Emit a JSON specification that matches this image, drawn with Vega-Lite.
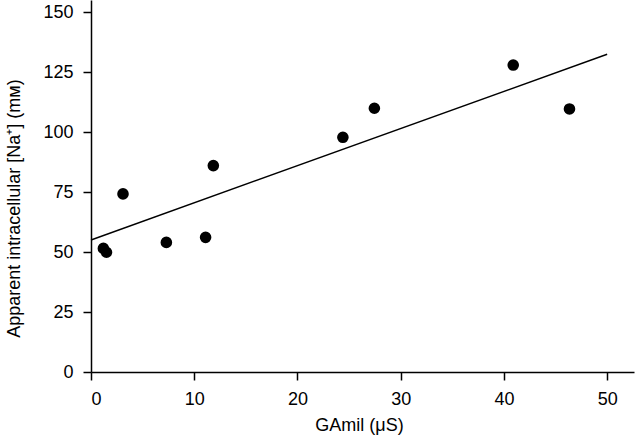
{
  "$schema": "https://vega.github.io/schema/vega-lite/v6.json",
  "width": 543,
  "height": 372,
  "autosize": {"type": "none"},
  "padding": {"left": 91, "top": 0, "right": 5, "bottom": 69},
  "background": "white",
  "config": {
    "view": {"stroke": null},
    "font": "Liberation Sans",
    "axis": {
      "grid": false,
      "domainColor": "black",
      "domainWidth": 1.5,
      "tickColor": "black",
      "tickWidth": 1.5,
      "tickSize": 8,
      "labelColor": "black",
      "labelFont": "Liberation Sans",
      "labelFontSize": 18,
      "titleColor": "black",
      "titleFont": "Liberation Sans",
      "titleFontSize": 18,
      "titleFontWeight": "normal"
    }
  },
  "datasets": {
    "points": [
      {"g": 1.2, "na": 51.5},
      {"g": 1.5, "na": 49.9},
      {"g": 3.1, "na": 74.2},
      {"g": 7.3, "na": 54.0},
      {"g": 11.1, "na": 56.1},
      {"g": 11.85, "na": 86.0},
      {"g": 24.4, "na": 97.8},
      {"g": 27.45, "na": 109.9},
      {"g": 40.9, "na": 127.9},
      {"g": 46.35, "na": 109.6}
    ],
    "fit": [
      {"g": 0, "na": 55.0},
      {"g": 50, "na": 132.4}
    ]
  },
  "layer": [
    {
      "data": {"name": "fit"},
      "mark": {"type": "line", "color": "black", "strokeWidth": 1.4},
      "encoding": {
        "x": {"field": "g", "type": "quantitative", "scale": {"domain": [0, 52.6], "nice": false, "zero": false},
          "axis": {"values": [0, 10, 20, 30, 40, 50], "labelPadding": 10, "title": "GAmil  (μS)", "titlePadding": 8, "titleX": 268}},
        "y": {"field": "na", "type": "quantitative", "scale": {"domain": [0, 155], "nice": false},
          "axis": {"values": [0, 25, 50, 75, 100, 125, 150], "labelPadding": 10, "title": "Apparent intracellular [Na⁺] (mᴍ)", "titlePadding": 19, "titleY": 208}}
      }
    },
    {
      "data": {"name": "points"},
      "mark": {"type": "point", "filled": true, "color": "black", "opacity": 1, "size": 135},
      "encoding": {
        "x": {"field": "g", "type": "quantitative"},
        "y": {"field": "na", "type": "quantitative"}
      }
    }
  ]
}
